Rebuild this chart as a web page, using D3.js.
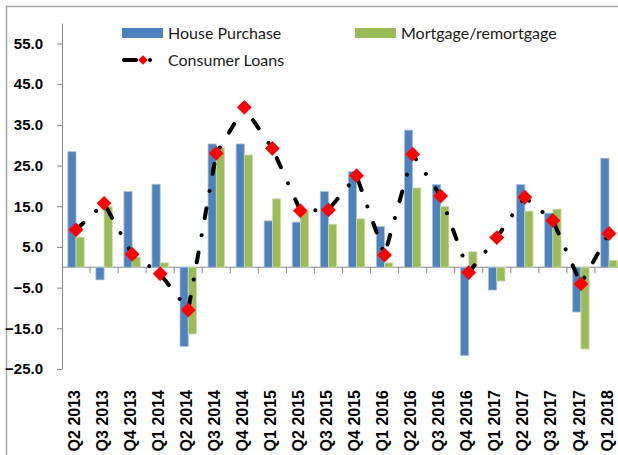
<!DOCTYPE html>
<html lang="en">
<head>
    <meta charset="UTF-8">
    <title>Lending growth by quarter</title>
    <style>
        body {
            margin: 0;
            background: #fff;
        }

        svg {
            display: block;
            font-family: Lato, "Liberation Sans", sans-serif;
        }

        .axis path,
        .axis line {
            stroke: #868686;
        }

        .axis text {
            font-family: "Liberation Sans", Arial, sans-serif;
            font-weight: bold;
            fill: #000;
        }

        .legend text {
            font-size: 16px;
            fill: #1a1a1a;
        }
    </style>
</head>
<body>
    <svg id="chart" width="618" height="455"></svg>

    <script src="https://d3js.org/d3.v7.min.js"></script>
    <script>
        const categories = ["Q2 2013", "Q3 2013", "Q4 2013", "Q1 2014", "Q2 2014", "Q3 2014", "Q4 2014",
            "Q1 2015", "Q2 2015", "Q3 2015", "Q4 2015", "Q1 2016", "Q2 2016", "Q3 2016", "Q4 2016",
            "Q1 2017", "Q2 2017", "Q3 2017", "Q4 2017", "Q1 2018"];
        const housePurchase = [28.4, -3.1, 18.6, 20.4, -19.5, 30.3, 30.3, 11.4, 11.1, 18.6,
            23.5, 10.0, 33.7, 20.3, -21.7, -5.6, 20.3, 13.3, -11.0, 26.8];
        const mortgage = [7.4, 14.9, 2.5, 1.1, -16.4, 29.4, 27.6, 16.8, 13.7, 10.6,
            11.9, 1.1, 19.5, 14.9, 3.8, -3.4, 13.8, 14.3, -20.1, 1.7];
        const consumerLoans = [9.2, 15.7, 3.2, -1.6, -10.5, 28.0, 39.3, 29.2, 13.9, 14.1,
            22.5, 3.0, 27.8, 17.5, -1.3, 7.3, 17.2, 11.5, -4.1, 8.3];
        const yTicks = [-25, -15, -5, 5, 15, 25, 35, 45, 55];
        const barSeries = ["House Purchase", "Mortgage/remortgage"];
        const lineSeries = "Consumer Loans";

        const colors = { "House Purchase": "#4f81bd", "Mortgage/remortgage": "#9bbb59" };
        const edge = { "House Purchase": "#a9c1e0", "Mortgage/remortgage": "#cddcae" };

        const svg = d3.select("#chart");

        // outer chart frame (runs off the right/bottom of the picture)
        svg.append("rect")
            .attr("x", 6.5).attr("y", 6.5)
            .attr("width", 700).attr("height", 520)
            .attr("fill", "none")
            .attr("stroke", "#a6a6a6")
            .attr("stroke-width", 1.5);

        const x = d3.scaleBand().domain(categories).range([62, 623]);
        const xInner = d3.scaleBand().domain(barSeries).range([-8.2, 8.2]);
        const y = d3.scaleLinear().domain([-25, 60]).range([369, 23.1]);

        // y axis
        svg.append("g")
            .attr("class", "axis")
            .attr("transform", "translate(62,0)")
            .call(d3.axisLeft(y).tickValues(yTicks).tickFormat(d3.format(".1f"))
                .tickSize(5).tickSizeOuter(0).tickPadding(14))
            .call(g => g.selectAll("text").style("font-size", "15px"));

        // zero line with category ticks
        const zero = svg.append("g").attr("class", "axis");
        zero.append("line")
            .attr("x1", 62).attr("x2", 623)
            .attr("y1", y(0)).attr("y2", y(0));
        zero.selectAll(".tk")
            .data(categories.slice(1))
            .join("line")
            .attr("class", "tk")
            .attr("x1", d => x(d)).attr("x2", d => x(d))
            .attr("y1", y(0)).attr("y2", y(0) + 6);

        // category labels at the bottom
        svg.append("g")
            .attr("class", "axis")
            .attr("transform", `translate(0,${y(-25)})`)
            .call(d3.axisBottom(x).tickSize(0))
            .call(g => g.select(".domain").remove())
            .call(g => g.selectAll("text")
                .style("font-size", "16px")
                .attr("transform", "rotate(-90)")
                .attr("text-anchor", "end")
                .attr("x", -21)
                .attr("y", -2)
                .attr("dy", "0.35em"));

        // bars
        const barData = categories.map((c, i) => ({
            cat: c,
            vals: [
                { key: "House Purchase", v: housePurchase[i] },
                { key: "Mortgage/remortgage", v: mortgage[i] }
            ]
        }));

        svg.append("g")
            .selectAll("g")
            .data(barData)
            .join("g")
            .attr("transform", d => `translate(${x(d.cat) + x.bandwidth() / 2},0)`)
            .selectAll("rect")
            .data(d => d.vals)
            .join("rect")
            .attr("x", d => xInner(d.key))
            .attr("width", xInner.bandwidth())
            .attr("y", d => y(Math.max(0, d.v)))
            .attr("height", d => Math.abs(y(d.v) - y(0)))
            .attr("fill", d => colors[d.key])
            .attr("stroke", d => edge[d.key])
            .attr("stroke-width", 0.8);

        // consumer loans line (straight segments, dash-dot)
        const line = d3.line()
            .x((d, i) => x(categories[i]) + x.bandwidth() / 2)
            .y(d => y(d));

        svg.append("path")
            .datum(consumerLoans)
            .attr("d", line)
            .attr("fill", "none")
            .attr("stroke", "#000")
            .attr("stroke-width", 4)
            .attr("stroke-linecap", "round")
            .attr("stroke-dasharray", "10,17.5,0.01,17.5");

        const diamond = d3.symbol().type(d3.symbolSquare).size(110);

        svg.append("g")
            .selectAll("path")
            .data(consumerLoans)
            .join("path")
            .attr("d", diamond)
            .attr("transform", (d, i) =>
                `translate(${x(categories[i]) + x.bandwidth() / 2},${y(d)}) rotate(45)`)
            .attr("fill", "#ff0000");

        // legend
        const legend = svg.append("g").attr("class", "legend");

        const legendBars = [
            { key: "House Purchase", x: 122, y: 28 },
            { key: "Mortgage/remortgage", x: 355, y: 28 }
        ];
        legendBars.forEach(item => {
            legend.append("rect")
                .attr("x", item.x).attr("y", item.y)
                .attr("width", 41).attr("height", 10)
                .attr("fill", colors[item.key]);
            legend.append("text")
                .attr("x", item.x + 46).attr("y", item.y + 5)
                .attr("dy", "0.35em")
                .text(item.key);
        });

        const ly = 60;
        legend.append("line")
            .attr("x1", 124).attr("x2", 136)
            .attr("y1", ly).attr("y2", ly)
            .attr("stroke", "#000").attr("stroke-width", 4)
            .attr("stroke-linecap", "round");
        legend.append("circle")
            .attr("cx", 150).attr("cy", ly).attr("r", 2)
            .attr("fill", "#000");
        legend.append("path")
            .attr("d", d3.symbol().type(d3.symbolSquare).size(45))
            .attr("transform", `translate(143,${ly}) rotate(45)`)
            .attr("fill", "#ff0000");
        legend.append("text")
            .attr("x", 168).attr("y", ly)
            .attr("dy", "0.35em")
            .text(lineSeries);
    </script>
</body>
</html>
